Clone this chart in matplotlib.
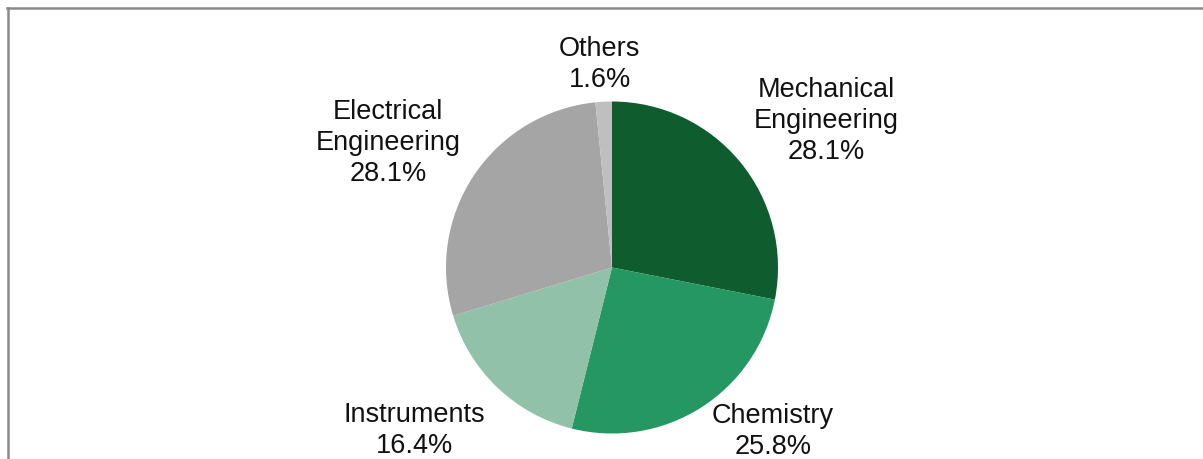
import matplotlib.pyplot as plt
from matplotlib.lines import Line2D

plt.rcParams['font.family'] = ['Liberation Sans', 'DejaVu Sans']

labels = ['Mechanical\nEngineering', 'Chemistry', 'Instruments', 'Electrical\nEngineering', 'Others']
shares = [28.1, 25.8, 16.4, 28.1, 1.6]
colors = ['#0f5c2e', '#249762', '#92c1a9', '#a5a5a5', '#bfbfbf']
# label anchor points, in pie radii from the centre
label_xy = [(1.29, 0.88), (0.97, -0.99), (-1.19, -0.98), (-1.35, 0.75), (-0.075, 1.22)]

W, H = 1203, 459
cx, cy, r = 612, 267.5, 166

fig = plt.figure(figsize=(W / 100, H / 100), dpi=100)
ax = fig.add_axes([0, 0, 1, 1])
ax.pie(shares, colors=colors, startangle=90, counterclock=False,
       wedgeprops=dict(linewidth=0))

for lab, val, (x, y) in zip(labels, shares, label_xy):
    ax.text(x, y, f'{lab}\n{val:.1f}%', ha='center', va='center',
            fontsize=19.5, linespacing=1.25, color='#111111')

ax.set_aspect('auto')
ax.set_xlim(-cx / r, (W - cx) / r)
ax.set_ylim(-(H - cy) / r, cy / r)
ax.axis('off')

# chart frame (only left and top edges are visible in the crop)
fig.add_artist(Line2D([7.5 / W, 7.5 / W], [0, 1 - 7.5 / H], color='#8a8a8a', lw=1.8,
                      transform=fig.transFigure))
fig.add_artist(Line2D([6.5 / W, 1], [1 - 7.5 / H, 1 - 7.5 / H], color='#8a8a8a', lw=1.8,
                      transform=fig.transFigure))

fig.savefig('out.png', dpi=100, facecolor='white')
